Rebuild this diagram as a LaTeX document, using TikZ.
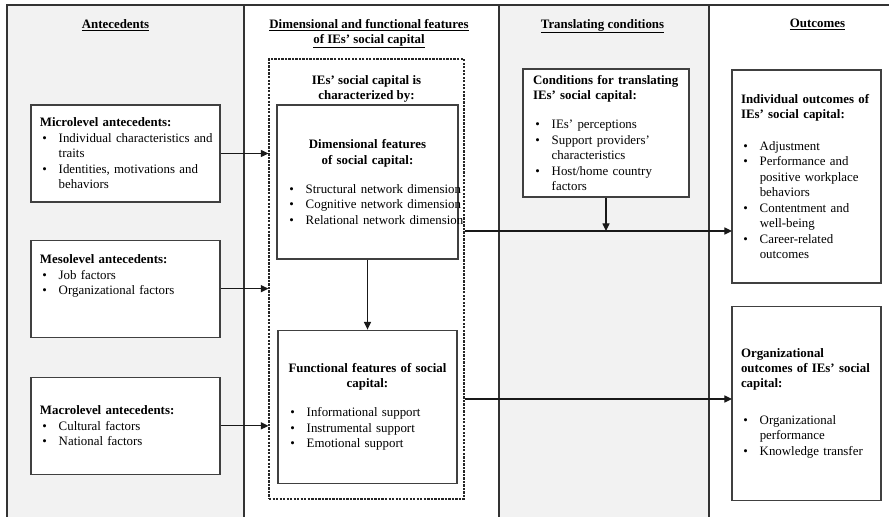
\documentclass[tikz,border=0pt]{standalone}
\usepackage{fontspec}
\setmainfont{Liberation Serif}
\usetikzlibrary{arrows.meta, positioning}

\definecolor{colgray}{HTML}{F2F2F2}
\definecolor{rulegray}{HTML}{333333}
\definecolor{boxgray}{HTML}{404040}

% bullet lines inside the boxes
\newcommand{\bitem}[1]{\makebox[16pt][l]{\hspace{2pt}\textbullet}\mbox{#1}}
\newcommand{\bcont}[1]{\hspace*{16pt}\mbox{#1}}
\newcommand{\ctr}[1]{\makebox[\linewidth]{\textbf{#1}}}

\begin{document}
\begin{tikzpicture}[
    x=0.03cm, y=-0.03cm,
    font=\fontsize{11}{13.2}\selectfont,
    >={Triangle[length=6.5pt, width=6pt]},
    colrule/.style={draw=rulegray, line width=1.2pt},
    colhead/.style={font=\fontsize{11}{12.8}\selectfont\bfseries, anchor=north, inner sep=0pt, align=center},
    textbox/.style={draw=boxgray, line width=1pt, fill=white, align=left, inner ysep=2pt},
    antebox/.style={textbox, minimum width=5.67cm, minimum height=2.91cm, text width=5.13cm, inner xsep=0.27cm},
    featbox/.style={textbox, inner xsep=0.3cm},
    outbox/.style={textbox, minimum width=4.47cm, text width=3.93cm, inner xsep=0.27cm},
    capframe/.style={draw=black!85, line width=0.9pt, dash pattern=on 2pt off 1pt, minimum width=5.85cm, minimum height=13.2cm},
    flow/.style={->, line width=1pt, black!90}
]
    \useasboundingbox (0,0) rectangle (889,517);

    % columns
    \fill[white] (0,0) rectangle (889,517);
    \fill[colgray] (7,5) rectangle (244,517);
    \fill[colgray] (499,5) rectangle (709,517);
    \draw[colrule] (7,517) -- (7,5) -- (889,5);
    \foreach \xc in {244,499,709}
        \draw[colrule] (\xc,5) -- (\xc,517);

    \node[colhead] (hdante)  at (115.5,19) {\underline{Antecedents}};
    \node[colhead] (hdfeat)  at (369,19)   {\underline{Dimensional and functional features}\\\underline{of IEs' social capital}};
    \node[colhead] (hdtrans) at (602.5,19) {\underline{Translating conditions}};
    \node[colhead] (hdout)   at (817.5,19) {\underline{Outcomes}};

    % antecedents
    \node[antebox] (micro) at (125.5,153.5) {\textbf{Microlevel antecedents:}\\
        \bitem{Individual characteristics and}\\ \bcont{traits}\\
        \bitem{Identities, motivations and}\\ \bcont{behaviors}};
    \node[antebox] (meso) [below=1.11cm of micro] {\textbf{Mesolevel antecedents:}\\
        \bitem{Job factors}\\ \bitem{Organizational factors}\\[10.8pt]\mbox{}};
    \node[antebox] (macro) [below=1.17cm of meso] {\textbf{Macrolevel antecedents:}\\
        \bitem{Cultural factors}\\ \bitem{National factors}};

    % features
    \node[capframe] (capbox) at (366.5,279) {};
    \node[font=\fontsize{11}{12.8}\selectfont\bfseries, align=center, inner sep=0pt] (captitle) [below=0.5cm of capbox.north] {IEs' social capital is\\characterized by:};
    \node[featbox, minimum width=5.43cm, text width=4.83cm, minimum height=4.62cm] (dims) at (367.5,182) {\ctr{Dimensional features}\\ \ctr{of social capital:}\\[11.5pt]
        \bitem{Structural network dimension}\\ \bitem{Cognitive network dimension}\\ \bitem{Relational network dimension}};
    \node[featbox, minimum width=5.37cm, text width=4.77cm, minimum height=4.59cm] (func) [below=2.1cm of dims] {\ctr{Functional features of social}\\ \ctr{capital:}\\[11.5pt]
        \bitem{Informational support}\\ \bitem{Instrumental support}\\ \bitem{Emotional support}};

    % translating conditions
    \node[textbox, minimum width=4.98cm, text width=4.38cm, inner xsep=0.3cm, minimum height=3.84cm] (cond) at (606,133) {\textbf{Conditions for translating}\\ \textbf{IEs' social capital:}\\[11.5pt]
        \bitem{IEs' perceptions}\\ \bitem{Support providers'}\\ \bcont{characteristics}\\ \bitem{Host/home country}\\ \bcont{factors}};

    % outcomes
    \node[outbox, minimum height=6.39cm] (indiv) at (806.5,176.5) {\textbf{Individual outcomes of}\\ \textbf{IEs' social capital:}\\[14pt]
        \bitem{Adjustment}\\ \bitem{Performance and}\\ \bcont{positive workplace}\\ \bcont{behaviors}\\
        \bitem{Contentment and}\\ \bcont{well-being}\\ \bitem{Career-related}\\ \bcont{outcomes}};
    \node[outbox, minimum height=5.82cm] (org) [below=0.66cm of indiv] {\textbf{Organizational}\\ \textbf{outcomes of IEs' social}\\ \textbf{capital:}\\[18pt]
        \bitem{Organizational}\\ \bcont{performance}\\ \bitem{Knowledge transfer}};

    \coordinate (indivin) at (732,231);
    \coordinate (orgin)   at (732,399);

    \draw[flow] (micro.east) -- (micro.east -| capbox.west);
    \draw[flow] (meso.east) -- (meso.east -| capbox.west);
    \draw[flow] (macro.east) -- (macro.east -| capbox.west);
    \draw[flow] (dims.south) -- (dims.south |- func.north);
    \draw[flow] (capbox.east |- indivin) -- (indivin);
    \draw[flow] (capbox.east |- orgin) -- (orgin);
    \draw[flow] (cond.south) -- (cond.south |- indivin);

\end{tikzpicture}
\end{document}
